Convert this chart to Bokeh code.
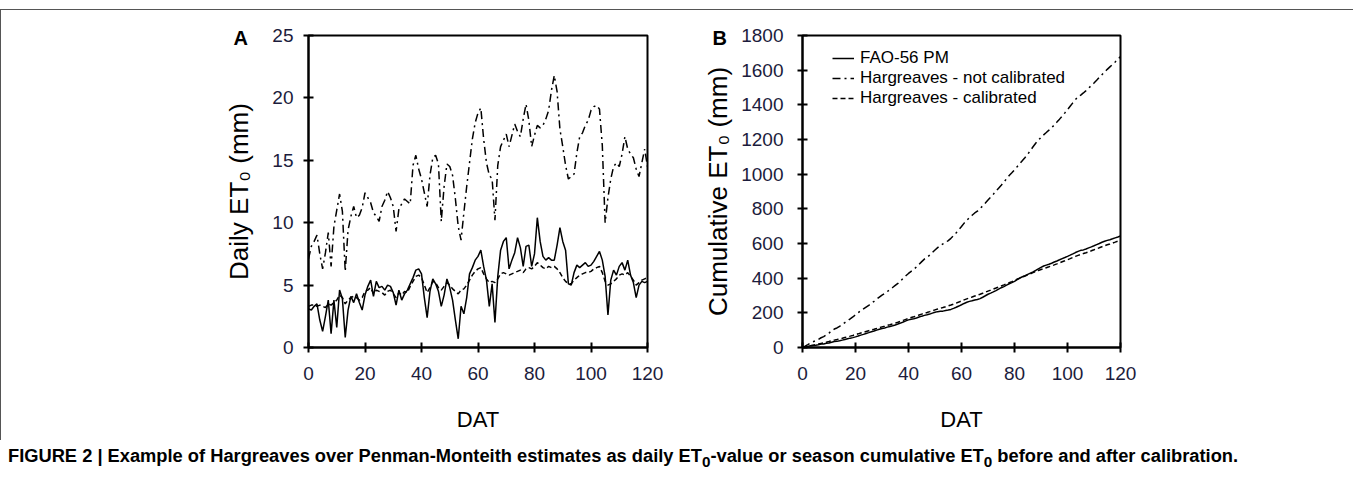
import numpy as np
from bokeh.plotting import figure
from bokeh.models import Range1d, FixedTicker, Legend, LegendItem, Div
from bokeh.layouts import row, column
from bokeh.embed import file_html
from bokeh.resources import INLINE

# ---------------- data ----------------
dat = list(range(0, 121))

pm_daily = [3.1, 3.0, 3.3, 3.5, 2.2, 1.3, 2.5, 3.8, 1.1, 3.8,
            1.6, 4.6, 3.9, 0.8, 3.0, 4.1, 3.6, 4.3, 3.6, 3.0,
            4.2, 4.9, 5.4, 4.1, 5.3, 4.8, 4.9, 4.6, 5.0, 4.9,
            4.4, 3.4, 4.6, 3.8, 4.3, 4.6, 5.1, 5.6, 6.2, 6.3,
            5.9, 4.0, 2.4, 4.5, 5.5, 5.1, 4.5, 3.3, 4.2, 5.5,
            4.8, 3.8, 2.2, 0.7, 3.3, 2.7, 4.0, 5.9, 6.4, 7.0,
            7.3, 7.8, 6.5, 5.4, 3.3, 5.1, 2.0, 5.7, 7.8, 8.5,
            8.8, 6.3, 7.0, 7.6, 8.8, 8.0, 6.5, 8.1, 8.2, 6.5,
            7.5, 10.4, 8.5, 7.3, 7.0, 7.2, 7.0, 7.0, 8.2, 9.6,
            8.5, 7.8, 5.1, 5.0, 6.0, 6.6, 6.4, 6.6, 6.8, 6.5,
            6.6, 6.9, 7.3, 7.7, 7.0, 5.7, 2.6, 5.4, 6.2, 5.8,
            6.5, 6.8, 6.2, 7.0, 5.8, 5.2, 4.0, 5.0, 5.3, 5.2,
            5.3]

hg_nc_daily = [7.1, 8.1, 8.5, 9.0, 7.5, 6.3, 7.6, 9.2, 6.5, 9.7,
               11.0, 12.3, 10.9, 6.1, 9.4, 10.5, 11.3, 10.4, 10.6, 11.2,
               12.4, 12.0, 11.6, 10.8, 10.5, 10.1, 11.3, 11.8, 12.5, 12.0,
               11.3, 9.3, 11.1, 11.5, 11.9, 11.7, 11.5, 14.6, 15.4, 14.3,
               13.5, 12.4, 11.3, 13.8, 15.2, 15.4, 14.7, 10.1, 12.9, 14.7,
               14.5, 13.8, 11.9, 9.7, 8.6, 10.8, 12.9, 14.8, 16.7, 18.0,
               18.8, 19.2, 16.7, 14.8, 13.8, 13.5, 10.2, 14.6, 16.1, 16.6,
               17.1, 16.1, 17.0, 17.9, 17.3, 16.9, 18.3, 19.5, 18.2, 16.1,
               17.0, 17.8, 17.6, 17.8, 18.3, 19.0, 20.6, 21.8, 20.5, 17.5,
               16.1, 14.6, 13.5, 13.7, 13.9, 15.6, 16.9, 17.2, 17.8, 18.2,
               19.0, 19.3, 19.4, 19.1, 16.2, 10.0, 12.0, 13.5, 14.5, 14.8,
               14.5, 15.5, 16.9, 15.9, 15.5, 15.2, 14.3, 13.7, 14.8, 15.9,
               14.5]

hg_c_daily = [3.3, 3.4, 3.4, 3.3, 3.4, 3.3, 3.2, 3.5, 3.4, 3.6,
              3.8, 4.2, 4.0, 3.5, 3.8, 4.0, 4.1, 4.0, 3.8, 4.0,
              4.5, 4.6, 4.8, 4.3, 4.6, 4.5, 4.4, 4.2, 4.5, 4.6,
              4.3, 4.0, 4.4, 4.2, 4.5, 4.4, 4.9, 5.3, 5.7, 5.8,
              5.6, 5.0, 4.4, 4.8, 5.3, 5.2, 4.8, 4.6, 4.9, 5.2,
              5.0, 4.7, 4.5, 4.3, 4.6, 4.7, 5.0, 5.4, 5.8, 6.1,
              6.3, 6.4, 5.9, 5.5, 5.2, 5.3, 5.2, 5.5, 5.9, 6.0,
              5.9, 5.8, 5.9, 6.0, 6.1, 6.2, 6.0, 6.3, 6.4, 6.3,
              6.5, 6.8, 6.6, 6.4, 6.3, 6.5, 6.4, 6.5, 6.3, 6.0,
              5.6, 5.3, 5.1, 5.1, 5.4, 5.6, 5.8, 5.9, 6.0, 6.0,
              6.1, 6.3, 6.4, 6.5, 6.0, 5.3, 5.0, 5.1, 5.3, 5.5,
              5.8, 5.9, 5.8, 6.0, 5.7, 5.4, 5.0, 5.2, 5.4, 5.5,
              5.6]

# cumulative season ET0 (running total of the daily values above)
def running_total(v):
    return np.concatenate([[0.0], np.cumsum(v[1:])])

pm_cum = running_total(pm_daily)
hg_nc_cum = running_total(hg_nc_daily)
hg_c_cum = running_total(hg_c_daily)

x_ticks = [0, 20, 40, 60, 80, 100, 120]
ya_ticks = [0, 5, 10, 15, 20, 25]
yb_ticks = [0, 200, 400, 600, 800, 1000, 1200, 1400, 1600, 1800]

series_names = ["FAO-56 PM", "Hargreaves - not calibrated", "Hargreaves - calibrated"]

# ---------------- styling ----------------
FONT = "Liberation Sans"
TICK_COLOR = "#1c1c3c"
DASH_NC = "8 4 2 4"
DASH_C = "5 3"


def style(p, y_ticks, tick_standoff, label_standoff):
    p.grid.visible = False
    p.outline_line_color = "black"
    p.outline_line_width = 2
    p.background_fill_color = "white"
    p.border_fill_color = "white"
    p.xaxis.ticker = FixedTicker(ticks=x_ticks)
    p.yaxis.ticker = FixedTicker(ticks=y_ticks)
    for ax in p.axis:
        ax.axis_line_color = "black"
        ax.axis_line_width = 2
        ax.major_tick_line_color = "black"
        ax.major_tick_line_width = 2
        ax.major_tick_in = 5
        ax.major_tick_out = 5
        ax.minor_tick_line_color = None
        ax.major_label_text_font = FONT
        ax.major_label_text_font_size = "19px"
        ax.major_label_text_color = TICK_COLOR
        ax.axis_label_text_font = FONT
        ax.axis_label_text_font_style = "normal"
        ax.axis_label_text_color = "black"
    p.yaxis.major_label_standoff = tick_standoff
    p.yaxis.axis_label_standoff = label_standoff
    p.yaxis.axis_label_text_font_size = "26px"
    p.xaxis.major_label_standoff = 14
    p.xaxis.axis_label_standoff = 24
    p.xaxis.axis_label_text_font_size = "22px"
    p.xaxis.axis_label = "DAT"


def panel_letter(p, offset):
    t = p.title
    t.align = "left"
    t.offset = offset
    t.text_font = FONT
    t.text_font_size = "20px"
    t.text_font_style = "bold"
    t.text_color = "black"
    try:
        t.standoff = -26
    except Exception:
        t.standoff = 0


# ---------------- panel A ----------------
pA = figure(width=677, height=430, output_backend="svg", toolbar_location=None,
            title="A",
            x_range=Range1d(0, 120), y_range=Range1d(0, 25),
            min_border_left=307, min_border_right=31, min_border_top=25,
            min_border_bottom=93)
style(pA, ya_ticks, 10, 15)
pA.yaxis.axis_label = "Daily ET\u2080 (mm)"
panel_letter(pA, -75)

pA.line(dat, hg_nc_daily, line_color="black", line_width=1.5, line_dash=DASH_NC)
pA.line(dat, hg_c_daily, line_color="black", line_width=1.5, line_dash=DASH_C)
pA.line(dat, pm_daily, line_color="black", line_width=1.5)

# ---------------- panel B ----------------
pB = figure(width=675, height=430, output_backend="svg", toolbar_location=None,
            title="B",
            x_range=Range1d(0, 120), y_range=Range1d(0, 1800),
            min_border_left=124, min_border_right=233, min_border_top=25,
            min_border_bottom=93)
style(pB, yb_ticks, 14, 5)
pB.yaxis.axis_label = "Cumulative ET\u2080 (mm)"
panel_letter(pB, -90)

r_pm = pB.line(dat, pm_cum, line_color="black", line_width=1.5)
r_nc = pB.line(dat, hg_nc_cum, line_color="black", line_width=1.5, line_dash=DASH_NC)
r_c = pB.line(dat, hg_c_cum, line_color="black", line_width=1.5, line_dash=DASH_C)

legend = Legend(items=[LegendItem(label=series_names[0], renderers=[r_pm]),
                       LegendItem(label=series_names[1], renderers=[r_nc]),
                       LegendItem(label=series_names[2], renderers=[r_c])],
                location=(30, 239), margin=0, padding=0, spacing=0,
                label_height=20, glyph_height=20, glyph_width=22, label_standoff=6,
                label_text_font=FONT, label_text_font_size="17px",
                label_text_color="black", border_line_color=None,
                background_fill_alpha=0)
pB.add_layout(legend)

# ---------------- caption ----------------
caption = Div(
    text=("FIGURE 2 | Example of Hargreaves over Penman-Monteith estimates as daily "
          "ET<sub>0</sub>-value or season cumulative ET<sub>0</sub> before and after calibration."),
    width=1340, height=30,
    styles={"font-family": FONT, "font-weight": "bold", "font-size": "18.3px",
            "color": "black", "margin-top": "-4px", "padding-top": "7px",
            "padding-left": "3px"})

panels = row(pA, pB, styles={"margin-top": "9px", "border-top": "1px solid #555",
                             "border-left": "1px solid #555"})
layout = column(panels, caption)

open("out.html", "w").write(file_html(layout, INLINE))
